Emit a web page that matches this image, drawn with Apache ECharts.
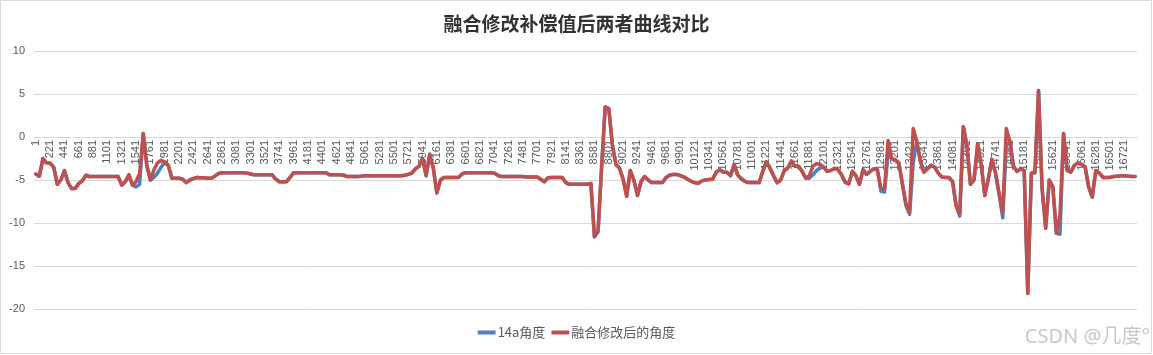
<!DOCTYPE html>
<html>
<head>
<meta charset="utf-8">
<script src="https://cdn.jsdelivr.net/npm/echarts@6/dist/echarts.min.js"></script>
<style>
html,body{margin:0;padding:0;background:#fff;}
#chart{width:1153px;height:355px;}
</style>
</head>
<body>
<div id="chart"></div>
<script>
// Sampled every 55 points of the original series (index 1, 56, 111, ...)
const sampleStep = 55;
const firstIndex = 1;

const seriesNames = ['14a角度', '融合修改后的角度'];

const angle14a = [
-4.3,-4.55,-2.5,-3.0,-3.05,-3.5,-5.5,-5.0,-3.9,-5.3,
-6.0,-6.0,-5.4,-5.1,-4.45,-4.6,-4.6,-4.6,-4.6,-4.6,
-4.6,-4.6,-4.6,-4.6,-5.6,-5.2,-4.4,-5.6,-5.8,-5.5,
0.4,-3.3,-5.0,-4.7,-4.2,-3.5,-3.0,-3.3,-4.8,-4.8,
-4.8,-4.9,-5.3,-5.0,-4.85,-4.7,-4.75,-4.75,-4.8,-4.8,
-4.55,-4.25,-4.15,-4.15,-4.15,-4.15,-4.15,-4.15,-4.15,-4.2,
-4.3,-4.4,-4.4,-4.4,-4.4,-4.4,-4.4,-4.9,-5.2,-5.2,
-5.2,-4.7,-4.15,-4.15,-4.15,-4.15,-4.15,-4.15,-4.15,-4.15,
-4.15,-4.15,-4.4,-4.4,-4.4,-4.4,-4.45,-4.6,-4.6,-4.6,
-4.6,-4.55,-4.5,-4.5,-4.5,-4.5,-4.5,-4.5,-4.5,-4.5,
-4.5,-4.5,-4.5,-4.45,-4.35,-4.2,-3.7,-3.4,-2.5,-4.5,
-2.0,-3.6,-6.5,-5.0,-4.7,-4.7,-4.7,-4.7,-4.7,-4.3,
-4.15,-4.15,-4.15,-4.15,-4.15,-4.15,-4.15,-4.15,-4.2,-4.45,
-4.6,-4.6,-4.6,-4.6,-4.6,-4.6,-4.6,-4.65,-4.65,-4.65,
-4.65,-4.9,-5.2,-4.75,-4.7,-4.7,-4.7,-4.7,-5.3,-5.5,
-5.5,-5.5,-5.5,-5.5,-5.5,-5.4,-11.6,-11.0,-3.5,3.5,
3.3,-0.9,-3.2,-3.6,-4.9,-6.9,-3.9,-5.0,-6.8,-5.2,
-4.6,-5.0,-5.3,-5.3,-5.3,-5.3,-4.7,-4.45,-4.35,-4.35,
-4.5,-4.65,-4.9,-5.15,-5.3,-5.4,-5.1,-5.0,-4.95,-4.9,
-4.1,-3.8,-4.1,-4.1,-4.5,-3.2,-4.4,-4.85,-5.15,-5.3,
-5.3,-5.3,-5.3,-4.0,-2.9,-3.6,-4.5,-5.3,-5.0,-3.9,
-3.6,-2.8,-3.4,-3.4,-4.0,-4.8,-4.8,-4.4,-3.9,-3.6,
-3.5,-4.0,-3.9,-3.65,-3.8,-4.4,-5.25,-5.45,-4.0,-4.5,
-5.5,-3.8,-4.35,-4.0,-3.7,-3.8,-6.3,-6.4,-2.0,-2.5,
-2.65,-3.0,-5.5,-8.0,-9.0,-3.0,-0.5,-2.8,-4.1,-3.7,
-3.3,-3.5,-4.2,-4.65,-4.7,-4.7,-5.2,-8.0,-9.2,1.2,
-1.0,-5.5,-5.0,-0.8,-3.2,-6.8,-4.8,-2.6,-4.2,-6.6,
-9.4,-1.0,-0.5,-3.4,-4.0,-3.7,-3.9,-18.2,-4.2,-4.15,
5.4,-6.0,-10.6,-5.0,-5.8,-11.2,-11.3,0.4,-3.9,-4.1,
-3.3,-3.0,-3.2,-3.45,-5.8,-7.0,-3.9,-4.2,-4.7,-4.7,
-4.7,-4.6,-4.55,-4.5,-4.5,-4.55,-4.6,-4.6
];

const angleFused = [
-4.3,-4.55,-2.5,-3.0,-3.05,-3.5,-5.5,-5.0,-3.9,-5.3,
-6.0,-6.0,-5.4,-5.1,-4.45,-4.6,-4.6,-4.6,-4.6,-4.6,
-4.6,-4.6,-4.6,-4.6,-5.6,-5.2,-4.4,-5.6,-5.2,-4.2,
0.4,-3.3,-5.0,-3.8,-3.0,-2.7,-2.9,-3.3,-4.8,-4.8,
-4.8,-4.9,-5.3,-5.0,-4.85,-4.7,-4.75,-4.75,-4.8,-4.8,
-4.55,-4.25,-4.15,-4.15,-4.15,-4.15,-4.15,-4.15,-4.15,-4.2,
-4.3,-4.4,-4.4,-4.4,-4.4,-4.4,-4.4,-4.9,-5.2,-5.2,
-5.2,-4.7,-4.15,-4.15,-4.15,-4.15,-4.15,-4.15,-4.15,-4.15,
-4.15,-4.15,-4.4,-4.4,-4.4,-4.4,-4.45,-4.6,-4.6,-4.6,
-4.6,-4.55,-4.5,-4.5,-4.5,-4.5,-4.5,-4.5,-4.5,-4.5,
-4.5,-4.5,-4.5,-4.45,-4.35,-4.2,-3.7,-3.4,-2.5,-4.5,
-2.0,-3.6,-6.5,-5.0,-4.7,-4.7,-4.7,-4.7,-4.7,-4.3,
-4.15,-4.15,-4.15,-4.15,-4.15,-4.15,-4.15,-4.15,-4.2,-4.45,
-4.6,-4.6,-4.6,-4.6,-4.6,-4.6,-4.6,-4.65,-4.65,-4.65,
-4.65,-4.9,-5.2,-4.75,-4.7,-4.7,-4.7,-4.7,-5.3,-5.5,
-5.5,-5.5,-5.5,-5.5,-5.5,-5.4,-11.6,-11.0,-3.5,3.5,
3.3,-0.9,-3.2,-3.6,-4.9,-6.9,-3.9,-5.0,-6.8,-5.2,
-4.6,-5.0,-5.3,-5.3,-5.3,-5.3,-4.7,-4.45,-4.35,-4.35,
-4.5,-4.65,-4.9,-5.15,-5.3,-5.4,-5.1,-5.0,-4.95,-4.9,
-4.1,-3.8,-4.1,-4.1,-4.5,-3.2,-4.4,-4.85,-5.15,-5.3,
-5.3,-5.3,-5.3,-4.0,-2.9,-3.6,-4.5,-5.3,-5.0,-3.9,
-3.6,-2.8,-3.4,-3.4,-4.0,-4.8,-4.5,-3.4,-3.1,-3.2,
-3.5,-4.0,-3.9,-3.65,-3.8,-4.4,-5.25,-5.45,-4.0,-4.5,
-5.5,-3.8,-4.35,-4.0,-3.7,-3.8,-6.0,-6.0,-0.4,-2.5,
-2.65,-3.0,-5.5,-7.8,-8.7,1.0,-0.5,-2.8,-4.1,-3.7,
-3.3,-3.5,-4.2,-4.65,-4.7,-4.7,-5.2,-8.0,-8.9,1.2,
-1.0,-5.5,-5.0,-0.8,-3.2,-6.8,-4.8,-2.6,-4.2,-6.6,
-8.8,1.0,-0.5,-3.4,-4.0,-3.7,-3.9,-18.2,-4.2,-4.15,
5.4,-6.0,-10.6,-5.0,-5.8,-11.2,-9.0,0.4,-3.9,-4.1,
-3.3,-3.0,-3.2,-3.45,-5.8,-7.0,-3.9,-4.2,-4.7,-4.7,
-4.7,-4.6,-4.55,-4.5,-4.5,-4.55,-4.6,-4.6
];

const yTicks = { min: -20, max: 10, interval: 5 };
const categories = angleFused.map((_, i) => String(firstIndex + i * sampleStep));

const gridTop = 51, gridBottom = 46, chartHeight = 355;
const plotHeight = chartHeight - gridTop - gridBottom;
// distance (px) from the bottom of the plot up to the value 0
const zeroOffset = plotHeight * (0 - yTicks.min) / (yTicks.max - yTicks.min);

const chart = echarts.init(document.getElementById('chart'), null, { renderer: 'canvas' });
const axisFont = '"Liberation Sans", Arial, sans-serif';
const cjkFont = '"Noto Sans CJK SC", sans-serif';

chart.setOption({
  animation: false,
  backgroundColor: '#ffffff',
  title: {
    text: '融合修改补偿值后两者曲线对比',
    left: 'center',
    top: 9,
    textStyle: { fontFamily: cjkFont, fontSize: 19, fontWeight: 'bold', color: '#333333' }
  },
  legend: {
    bottom: 11,
    left: 'center',
    itemWidth: 18,
    itemHeight: 4,
    itemGap: 6,
    icon: 'roundRect',
    textStyle: { fontFamily: cjkFont, fontSize: 13, color: '#595959', padding: [0, 0, 0, -3] },
    data: [seriesNames[0], seriesNames[1]]
  },
  grid: { left: 34, right: 16, top: gridTop, bottom: gridBottom, containLabel: false },
  xAxis: {
    type: 'category',
    data: categories,
    boundaryGap: true,
    position: 'bottom',
    offset: -zeroOffset,
    axisLine: { onZero: false, lineStyle: { color: '#D9D9D9', width: 1 } },
    axisTick: { show: false },
    axisLabel: {
      interval: 3,
      rotate: 90,
      margin: 3,
      fontSize: 11,
      fontFamily: axisFont,
      color: '#595959',
      hideOverlap: false
    },
    splitLine: { show: false }
  },
  yAxis: {
    type: 'value',
    min: yTicks.min,
    max: yTicks.max,
    interval: yTicks.interval,
    axisLine: { show: false },
    axisTick: { show: false },
    axisLabel: { fontSize: 11, fontFamily: axisFont, color: '#595959', margin: 9 },
    splitLine: { lineStyle: { color: '#D9D9D9', width: 1 } }
  },
  series: [
    {
      name: seriesNames[0],
      type: 'line',
      data: angle14a,
      symbol: 'none',
      color: '#4F81BD',
      lineStyle: { width: 3.5, color: '#4F81BD', cap: 'round', join: 'round' },
      z: 2
    },
    {
      name: seriesNames[1],
      type: 'line',
      data: angleFused,
      symbol: 'none',
      color: '#C0504D',
      lineStyle: { width: 3.5, color: '#C0504D', cap: 'round', join: 'round' },
      z: 3
    }
  ],
  graphic: [
    {
      type: 'rect',
      shape: { x: 0.5, y: 0.5, width: 1151, height: 353 },
      style: { fill: 'none', stroke: '#D9D9D9', lineWidth: 1 },
      silent: true
    },
    {
      type: 'text',
      right: 3,
      bottom: 8,
      style: { text: 'CSDN @几度°', fontFamily: '"Noto Sans", ' + cjkFont, fontSize: 20, fill: '#C8C8C8' },
      silent: true
    }
  ]
});
</script>
</body>
</html>
